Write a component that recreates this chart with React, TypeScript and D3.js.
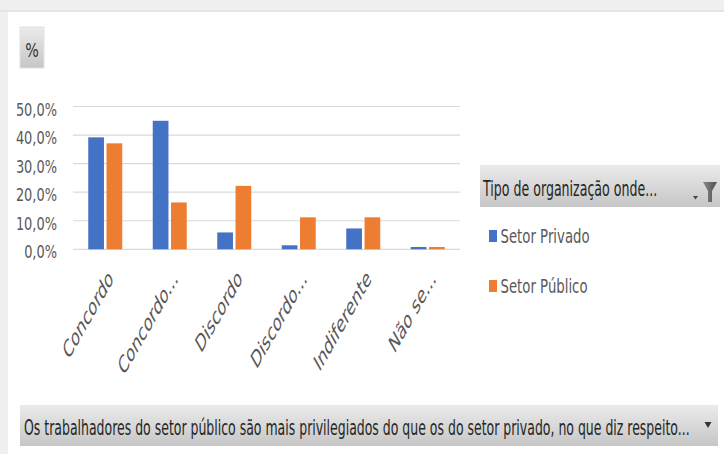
import React from "react";
import * as d3 from "d3";

const categories = ["Concordo", "Concordo...", "Discordo", "Discordo...", "Indiferente", "Não se..."];
const seriesNames = ["Setor Privado", "Setor Público"];
const privado = [0.392, 0.45, 0.059, 0.014, 0.073, 0.008];
const publico = [0.371, 0.164, 0.222, 0.112, 0.112, 0.008];
const yTicks = [0, 0.1, 0.2, 0.3, 0.4, 0.5];
const colors = ["#4472c4", "#ed7d31"];

const legendTitle = "Tipo de organização onde...";
const axisFieldTitle =
  "Os trabalhadores do setor público são mais privilegiados do que os do setor privado, no que diz respeito...";

const width = 724;
const height = 454;
const font = "'DejaVu Sans', sans-serif";

// squeeze text horizontally like the screenshot
const sq = (x, y, sx, extra = "") => `translate(${x},${y}) scale(${sx},1)${extra}`;

const App = () => {
  const values = [privado, publico];

  const x0 = d3.scaleBand().domain(categories).range([73, 460]).padding(0);
  const x1 = d3.scaleBand().domain(seriesNames).range([0, 34]).paddingInner(0.14);
  const groupOffset = (x0.bandwidth() - 34) / 2;

  const y = d3.scaleLinear().domain([0, 0.5]).range([249.3, 106.5]);
  const fmt = (d) => d3.format(".1f")(d * 100).replace(".", ",") + "%";

  return (
    <svg
      width={width}
      height={height}
      style={{ position: "absolute", left: 0, top: 0, fontFamily: font }}
    >
      <defs>
        <linearGradient id="btn" x1="0" y1="0" x2="0" y2="1">
          <stop offset="0%" stopColor="#ebebeb" />
          <stop offset="100%" stopColor="#c6c6c6" />
        </linearGradient>
        <linearGradient id="funnel" x1="0" y1="0" x2="1" y2="0">
          <stop offset="0%" stopColor="#8a8a8a" />
          <stop offset="100%" stopColor="#4d4d4d" />
        </linearGradient>
      </defs>

      {/* page background and card */}
      <rect x={0} y={0} width={width} height={height} fill="#f0f0f0" />
      <rect x={0} y={10} width={width} height={2} fill="#e4e4e4" />
      <rect x={8} y={12} width={width - 8} height={height - 12} fill="#ffffff" />

      {/* value field button */}
      <rect x={20} y={27} width={24} height={41} fill="url(#btn)" stroke="#e2e2e2" />
      <text transform={sq(32, 57, 0.75)} textAnchor="middle" fontSize={19} fill="#333">
        %
      </text>

      {/* gridlines + y ticks */}
      {yTicks.map((t) => (
        <g key={t}>
          <line x1={73} x2={460} y1={y(t)} y2={y(t)} stroke="#d9d9d9" strokeWidth={1.2} />
          <text transform={sq(57, y(t) + 9, 0.7)} textAnchor="end" fontSize={18.5} fill="#595959">
            {fmt(t)}
          </text>
        </g>
      ))}

      {/* bars */}
      {categories.map((c, i) => (
        <g key={c} transform={`translate(${x0(c) + groupOffset},0)`}>
          {seriesNames.map((s, j) => (
            <rect
              key={s}
              x={x1(s)}
              y={y(values[j][i])}
              width={x1.bandwidth()}
              height={y(0) - y(values[j][i])}
              fill={colors[j]}
            />
          ))}
        </g>
      ))}

      {/* category labels */}
      {categories.map((c) => (
        <text
          key={c}
          transform={sq(x0(c) + x0.bandwidth() / 2 + 9, 280, 0.57, " rotate(-45)")}
          textAnchor="end"
          fontSize={24}
          fill="#595959"
        >
          {c}
        </text>
      ))}

      {/* legend field button */}
      <rect x={480} y={165} width={240} height={42} fill="url(#btn)" />
      <text transform={sq(483, 196, 0.573)} fontSize={22} fill="#262626">
        {legendTitle}
      </text>
      <path d="M693,196 L698,196 L695.5,199.5 Z" fill="#444" />
      <path d="M703,182 L717,182 L712,191 L712,202 L708,202 L708,191 Z" fill="url(#funnel)" />

      {/* legend items */}
      {seriesNames.map((s, j) => {
        const by = 242.5 + j * 50;
        return (
          <g key={s}>
            <rect x={489} y={by - 12.5} width={8} height={12} fill={colors[j]} />
            <text transform={sq(500.5, by, 0.7)} fontSize={19} fill="#595959">
              {s}
            </text>
          </g>
        );
      })}

      {/* axis field button */}
      <rect x={20} y={405} width={698} height={41} fill="url(#btn)" />
      <text transform={sq(24, 435, 0.568)} fontSize={22} fill="#262626">
        {axisFieldTitle}
      </text>
      <path d="M704.5,422 L711.5,422 L708,428 Z" fill="#333" />
    </svg>
  );
};

export default App;
